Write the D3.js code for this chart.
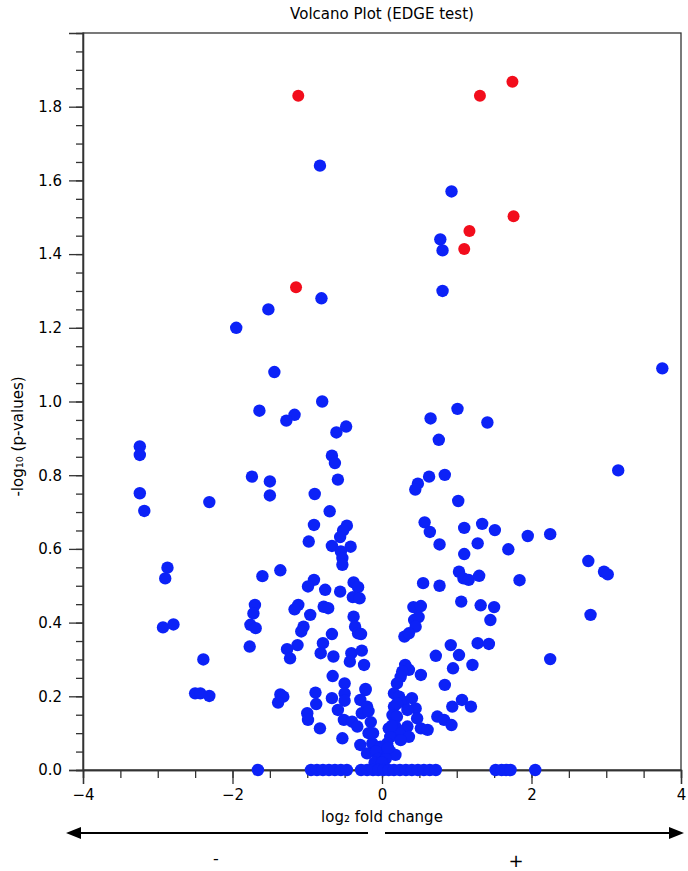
<!DOCTYPE html>
<html>
<head>
<meta charset="utf-8">
<script src="https://cdn.jsdelivr.net/npm/d3@7"></script>
<style>
  body { margin: 0; background: #fff; }
  svg text { font-family: "DejaVu Sans", sans-serif; fill: #000; }
</style>
</head>
<body>
<svg id="chart"></svg>
<script>
// [log2 fold change, -log10 p]
const redPoints = [
  [-1.12, 1.83], [1.31, 1.83], [1.745, 1.868], [1.76, 1.503], [1.17, 1.463], [1.10, 1.414], [-1.15, 1.31]
];

const bluePoints = [
  [-0.83, 1.64], [0.93, 1.57], [0.78, 1.44], [0.81, 1.41], [0.81, 1.30], [-0.81, 1.28], [-1.52, 1.25],
  [-1.95, 1.20], [3.75, 1.09], [-1.44, 1.08], [1.01, 0.98], [-0.80, 1.00], [-1.64, 0.975], [-1.17, 0.964],
  [-1.28, 0.948], [0.65, 0.954], [1.41, 0.943], [-0.48, 0.932], [-0.61, 0.916], [0.76, 0.896], [-3.24, 0.878],
  [-3.24, 0.855], [-0.67, 0.853], [-0.63, 0.833], [3.16, 0.813], [-1.74, 0.796], [0.63, 0.796], [0.84, 0.801],
  [-0.59, 0.788], [-1.50, 0.783], [0.48, 0.777], [0.445, 0.761], [-3.24, 0.751], [-1.50, 0.745], [-0.90, 0.749],
  [-2.31, 0.727], [1.02, 0.730], [-3.18, 0.703], [-0.70, 0.702],
  [0.57, 0.672], [0.64, 0.646], [1.10, 0.657], [1.34, 0.668], [1.51, 0.651], [1.95, 0.635], [2.25, 0.640],
  [-0.91, 0.665], [-0.98, 0.620], [-0.47, 0.663], [-0.52, 0.650], [-0.56, 0.632], [-0.67, 0.608], [-0.42, 0.606],
  [-0.55, 0.593], [-0.53, 0.575], [-0.53, 0.557], [0.77, 0.612], [1.28, 0.615], [1.10, 0.586], [1.69, 0.599],
  [2.76, 0.567], [2.97, 0.538], [3.02, 0.531], [-2.87, 0.549], [-2.90, 0.520], [-1.36, 0.542], [-1.60, 0.526],
  [1.03, 0.538], [1.09, 0.520], [1.16, 0.516], [1.30, 0.527], [1.84, 0.515], [-0.91, 0.516], [-0.99, 0.498],
  [-0.76, 0.489], [-0.56, 0.484], [-0.38, 0.509], [-0.32, 0.496], [0.55, 0.507], [0.77, 0.500], [-0.39, 0.469],
  [-0.30, 0.466], [1.06, 0.457], [1.32, 0.447], [1.50, 0.442], [-1.12, 0.448], [-1.17, 0.436], [-0.78, 0.443],
  [-0.72, 0.439], [-1.70, 0.448], [-1.72, 0.425], [0.42, 0.442], [0.52, 0.445], [2.79, 0.421], [-0.96, 0.421],
  [-0.38, 0.416], [0.43, 0.407], [0.49, 0.415], [1.45, 0.407], [-2.93, 0.387], [-2.79, 0.395], [-1.76, 0.394],
  [-1.69, 0.385], [-1.05, 0.389], [-1.08, 0.376], [-0.36, 0.389], [-0.32, 0.371], [-0.28, 0.369], [-0.67, 0.369],
  [0.45, 0.389], [0.30, 0.362], [0.36, 0.371],
  [-0.79, 0.344], [-0.82, 0.317], [-1.13, 0.339], [-1.27, 0.328], [-1.23, 0.303], [-1.77, 0.335], [-2.39, 0.300],
  [2.25, 0.301], [-0.65, 0.308], [-0.41, 0.317], [-0.27, 0.324], [-0.43, 0.294], [-0.24, 0.285], [1.28, 0.344],
  [1.43, 0.342], [0.92, 0.339], [1.03, 0.312], [0.72, 0.310], [0.95, 0.276], [1.21, 0.285], [0.31, 0.285],
  [0.36, 0.272], [0.27, 0.267], [0.52, 0.258], [0.25, 0.253], [-0.66, 0.255], [-0.50, 0.235], [0.20, 0.235],
  [0.84, 0.231], [-0.22, 0.217], [-0.89, 0.210], [-0.50, 0.208], [0.16, 0.208], [-2.50, 0.208], [-2.43, 0.208],
  [-2.31, 0.201], [-1.36, 0.205], [-1.32, 0.199], [-1.39, 0.183], [-0.67, 0.195], [-0.50, 0.188], [-0.29, 0.190],
  [0.23, 0.199], [0.29, 0.185], [0.40, 0.195], [1.07, 0.190], [-0.88, 0.179], [-0.20, 0.172], [0.16, 0.172],
  [0.45, 0.167], [0.34, 0.163], [0.94, 0.172], [1.19, 0.172], [-0.59, 0.163], [-1.00, 0.154], [-0.27, 0.154],
  [0.14, 0.149], [0.20, 0.145], [0.74, 0.145], [0.47, 0.140], [-0.99, 0.136], [-0.51, 0.136], [0.83, 0.136],
  [-0.40, 0.131], [0.93, 0.122], [-0.33, 0.118], [0.18, 0.118], [0.34, 0.118], [-0.83, 0.113], [0.09, 0.113],
  [0.52, 0.113], [0.61, 0.109], [0.31, 0.109], [-0.18, 0.100], [0.23, 0.100], [0.11, 0.090], [0.36, 0.090],
  [-0.53, 0.086], [0.25, 0.081], [-0.13, 0.072], [0.07, 0.072], [-0.29, 0.068], [-0.02, 0.063], [-0.09, 0.050],
  [0.11, 0.050], [-0.20, 0.045], [0.02, 0.041], [0.18, 0.041],
  [-0.22, 0.22], [-0.18, 0.16], [-0.15, 0.13], [-0.12, 0.10], [-0.08, 0.05], [-0.05, 0.03], [0.05, 0.03],
  [0.08, 0.06], [0.13, 0.12], [0.20, 0.18], [-0.10, 0.02], [0.00, 0.02],
  [-1.66, 0], [-0.95, 0], [-0.87, 0], [-0.79, 0], [-0.71, 0], [-0.63, 0], [-0.55, 0], [-0.47, 0],
  [-0.28, 0], [-0.20, 0], [-0.12, 0], [-0.05, 0], [0.02, 0], [0.09, 0], [0.16, 0], [0.24, 0], [0.32, 0],
  [0.40, 0], [0.48, 0], [0.56, 0], [0.64, 0], [0.72, 0], [1.52, 0], [1.60, 0], [1.66, 0], [1.72, 0], [2.05, 0]
];

const xDomain = [-4, 4];
const yDomain = [0, 2];
const xTickLabels = [-4, -2, 0, 2, 4];
const yTickLabels = [0, 0.2, 0.4, 0.6, 0.8, 1.0, 1.2, 1.4, 1.6, 1.8];

const title = "Volcano Plot (EDGE test)";
const xTitle = "log\u2082 fold change";
const yTitle = "-log\u2081\u2080 (p-values)";

const width = 688, height = 871;
const margin = {top: 33, right: 7, bottom: 101, left: 83};
const innerW = width - margin.left - margin.right;
const innerH = height - margin.top - margin.bottom;

const svg = d3.select("#chart")
    .attr("width", width)
    .attr("height", height);

const x = d3.scaleLinear().domain(xDomain).range([0, innerW]);
const y = d3.scaleLinear().domain(yDomain).range([innerH, 0]);

const chart = svg.append("g")
    .attr("transform", `translate(${margin.left},${margin.top})`);

// frame
chart.append("rect")
    .attr("width", innerW)
    .attr("height", innerH)
    .attr("fill", "none")
    .attr("stroke", "#333")
    .attr("stroke-width", 1.3);

// minor ticks (every 0.5 on x, every 0.05 on y)
const xMinor = d3.range(-40, 41, 5).map(d => d / 10);
const yMinor = d3.range(0, 40).map(d => d / 20);

const xAxis = chart.append("g").attr("transform", `translate(0,${innerH})`);
xAxis.call(d3.axisBottom(x).tickValues(xMinor).tickSize(8).tickFormat(""))
xAxis.append("g").call(d3.axisBottom(x).tickValues(xTickLabels).tickSize(14).tickPadding(5));

const yAxis = chart.append("g");
yAxis.call(d3.axisLeft(y).tickValues(yMinor).tickSize(7).tickFormat(""));
yAxis.append("g").call(d3.axisLeft(y).tickValues(yTickLabels).tickSize(14).tickPadding(7).tickFormat(d3.format(".1f")));

chart.selectAll(".domain").attr("stroke", "#333").attr("stroke-width", 1.3);
chart.selectAll(".tick line").attr("stroke", "#333").attr("stroke-width", 1.3);
chart.selectAll(".tick text")
    .attr("font-family", "DejaVu Sans")
    .attr("font-size", 15)
    .attr("fill", "#000");

// points
chart.append("g").selectAll("circle.blue")
    .data(bluePoints)
    .join("circle")
    .attr("class", "blue")
    .attr("cx", d => x(d[0]))
    .attr("cy", d => y(d[1]))
    .attr("r", 6.2)
    .attr("fill", "#0c22f7");

chart.append("g").selectAll("circle.red")
    .data(redPoints)
    .join("circle")
    .attr("class", "red")
    .attr("cx", d => x(d[0]))
    .attr("cy", d => y(d[1]))
    .attr("r", 6)
    .attr("fill", "#f20d1c");

// titles
svg.append("text")
    .attr("x", margin.left + x(0))
    .attr("y", 19)
    .attr("text-anchor", "middle")
    .attr("font-size", 15)
    .text(title);

svg.append("text")
    .attr("x", margin.left + x(0))
    .attr("y", 822)
    .attr("text-anchor", "middle")
    .attr("font-size", 15)
    .text(xTitle);

svg.append("text")
    .attr("transform", `translate(23,${margin.top + innerH / 2 + 35}) rotate(-90)`)
    .attr("text-anchor", "middle")
    .attr("font-size", 15)
    .text(yTitle);

// direction arrows under the axis
const arrowY = 833;
const head = (tipX, dir) => {
    const b = tipX + dir * 15;
    return `M${tipX},${arrowY}L${b},${arrowY - 6}L${b},${arrowY + 6}Z`;
};
svg.append("line")
    .attr("x1", 74).attr("x2", 368)
    .attr("y1", arrowY).attr("y2", arrowY)
    .attr("stroke", "#000").attr("stroke-width", 2);
svg.append("path").attr("d", head(66, 1)).attr("fill", "#000");
svg.append("line")
    .attr("x1", 385).attr("x2", 676)
    .attr("y1", arrowY).attr("y2", arrowY)
    .attr("stroke", "#000").attr("stroke-width", 2);
svg.append("path").attr("d", head(684, -1)).attr("fill", "#000");

svg.append("text")
    .attr("x", 216).attr("y", 864)
    .attr("text-anchor", "middle")
    .attr("font-size", 16)
    .text("-");
svg.append("text")
    .attr("x", 516).attr("y", 867)
    .attr("text-anchor", "middle")
    .attr("font-size", 18)
    .text("+");
</script>
</body>
</html>
